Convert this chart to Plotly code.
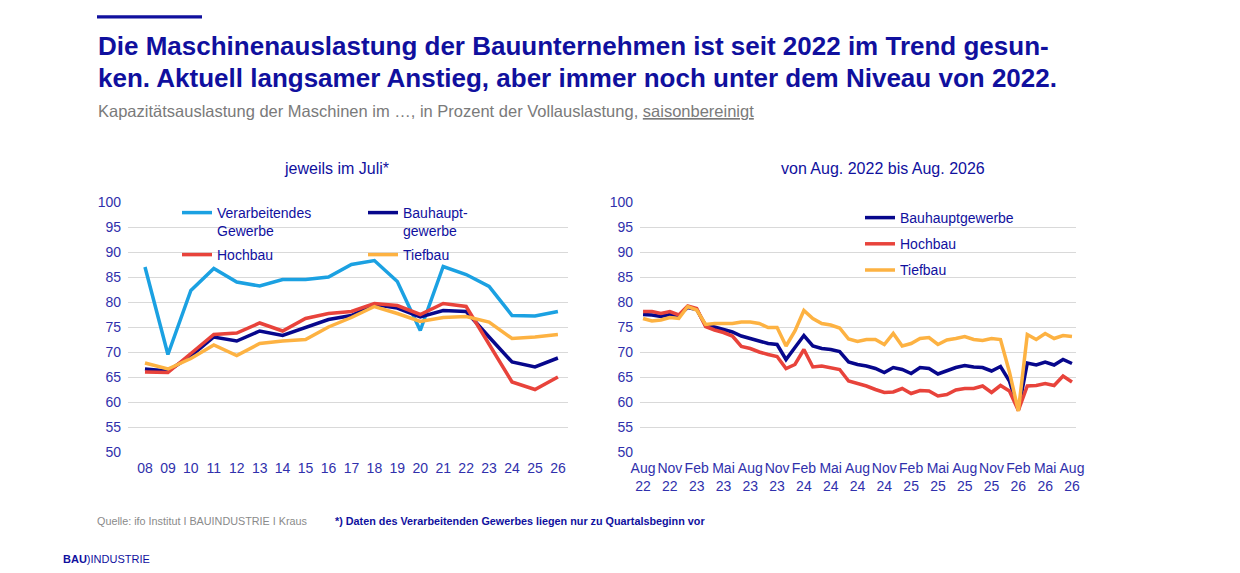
import plotly.graph_objects as go

# page is 1240x573; the html body adds an 8px margin round the figure
OFF = 8
W, H = 1240 - 2 * OFF, 573 - 2 * OFF

# left chart: July values per year
years = ["08", "09", "10", "11", "12", "13", "14", "15", "16", "17",
         "18", "19", "20", "21", "22", "23", "24", "25", "26"]
verarb_juli = [87.0, 69.5, 82.3, 86.7, 84.0, 83.2, 84.5, 84.5, 85.0, 87.5,
               88.3, 84.1, 74.3, 87.1, 85.5, 83.1, 77.3, 77.2, 78.1]
bauhaupt_juli = [66.6, 66.2, 69.2, 73.0, 72.2, 74.2, 73.3, 74.9, 76.5, 77.3,
                 79.5, 78.8, 77.0, 78.3, 78.1, 73.0, 68.0, 67.0, 68.8]
hochbau_juli = [66.0, 65.9, 69.7, 73.5, 73.8, 75.8, 74.2, 76.7, 77.7, 78.1,
                79.7, 79.3, 77.5, 79.7, 79.1, 71.5, 64.0, 62.5, 65.0]
tiefbau_juli = [67.8, 66.6, 68.7, 71.4, 69.3, 71.7, 72.2, 72.5, 75.0, 76.9,
                79.1, 77.7, 76.1, 76.9, 77.1, 76.0, 72.7, 73.0, 73.5]

# right chart: monthly values Aug 2022 - Aug 2026
mon_names = ["Jan", "Feb", "Mrz", "Apr", "Mai", "Jun",
             "Jul", "Aug", "Sep", "Okt", "Nov", "Dez"]
months = [f"{mon_names[(7 + i) % 12]} {22 + (7 + i) // 12}" for i in range(49)]
bauhaupt_mon = [77.5, 77.4, 77.1, 77.5, 77.3, 78.9, 78.5, 75.3, 75.0, 74.5,
                74.0, 73.2, 72.7, 72.2, 71.7, 71.5, 68.5, 70.9, 73.3, 71.2,
                70.7, 70.5, 70.1, 68.0, 67.5, 67.2, 66.7, 65.9, 66.9, 66.5,
                65.7, 66.9, 66.7, 65.6, 66.2, 66.9, 67.3, 67.0, 66.9, 66.2,
                67.1, 64.2, 58.4, 67.8, 67.4, 68.0, 67.4, 68.5, 67.7]
hochbau_mon = [78.1, 78.1, 77.7, 78.1, 77.4, 79.2, 78.7, 75.1, 74.4, 73.9,
               73.2, 71.1, 70.7, 70.0, 69.5, 69.1, 66.7, 67.5, 70.5, 67.0,
               67.2, 66.9, 66.5, 64.2, 63.7, 63.2, 62.5, 61.9, 62.0, 62.7,
               61.7, 62.3, 62.2, 61.2, 61.5, 62.4, 62.7, 62.7, 63.2, 61.9,
               63.3, 62.2, 58.3, 63.2, 63.3, 63.7, 63.3, 65.2, 64.0]
tiefbau_mon = [76.7, 76.2, 76.4, 76.9, 76.7, 79.1, 78.4, 75.5, 75.7, 75.7,
               75.7, 76.0, 76.0, 75.7, 74.9, 74.9, 71.2, 74.2, 78.3, 76.7,
               75.7, 75.4, 74.8, 72.6, 72.1, 72.5, 72.5, 71.5, 73.7, 71.2,
               71.7, 72.7, 72.9, 71.5, 72.4, 72.7, 73.1, 72.5, 72.3, 72.7,
               72.5, 66.0, 58.2, 73.5, 72.5, 73.7, 72.7, 73.3, 73.1]
month_ticks = months[::3]
month_ticktext = [m.replace(" ", "<br>") for m in month_ticks]

C_VERARB = "#1ba1e2"
C_BAU = "#07078c"
C_HOCH = "#e8433b"
C_TIEF = "#fdb242"
NAVY = "#10109e"
TICK = "#3030ac"
FONT = "Liberation Sans, Arial, sans-serif"


def px_x(p):
    return (p - OFF) / W


def px_y(p):
    return 1 - (p - OFF) / H


fig = go.Figure()

left = [("Verarbeitendes<br>Gewerbe", verarb_juli, C_VERARB, "legend"),
        ("Bauhaupt-<br>gewerbe", bauhaupt_juli, C_BAU, "legend"),
        ("Hochbau", hochbau_juli, C_HOCH, "legend2"),
        ("Tiefbau", tiefbau_juli, C_TIEF, "legend2")]
for name, vals, col, leg in left:
    fig.add_trace(go.Scatter(x=years, y=vals, name=name, mode="lines",
                             line=dict(color=col, width=3.5),
                             xaxis="x", yaxis="y", legend=leg,
                             hoverinfo="skip"))

right = [("Bauhauptgewerbe", bauhaupt_mon, C_BAU),
         ("Hochbau", hochbau_mon, C_HOCH),
         ("Tiefbau", tiefbau_mon, C_TIEF)]
for name, vals, col in right:
    fig.add_trace(go.Scatter(x=months, y=vals, name=name, mode="lines",
                             line=dict(color=col, width=3.5),
                             xaxis="x2", yaxis="y2", legend="legend3",
                             legendgroup=name, hoverinfo="skip"))

axis_common = dict(showline=False, zeroline=False, ticks="", automargin=False,
                   tickfont=dict(family=FONT, size=14, color=TICK))
yaxis_common = dict(axis_common, range=[50, 100], dtick=5, showgrid=True,
                    gridcolor="#d9d9d9", gridwidth=1.3, ticklabelstandoff=6,
                    domain=[px_y(452), px_y(202)])

legend_common = dict(font=dict(family=FONT, size=14, color=NAVY),
                     bgcolor="rgba(0,0,0,0)", xanchor="left", yanchor="top",
                     valign="top", itemclick=False, itemdoubleclick=False)

fig.update_layout(
    width=W, height=H,
    margin=dict(l=0, r=0, t=0, b=0, autoexpand=False),
    paper_bgcolor="white", plot_bgcolor="white",
    font=dict(family=FONT, color=NAVY),
    xaxis=dict(axis_common, type="category", domain=[px_x(128), px_x(568)],
               range=[-0.74, 18.44], showgrid=False, ticklabelstandoff=6,
               tickangle=0),
    yaxis=dict(yaxis_common, anchor="x"),
    xaxis2=dict(axis_common, type="category", domain=[px_x(640), px_x(1076)],
                range=[-0.34, 48.45], showgrid=False, tickvals=month_ticks,
                ticktext=month_ticktext, ticklabelstandoff=6, tickangle=0),
    yaxis2=dict(yaxis_common, anchor="x2"),
    legend=dict(legend_common, orientation="h", entrywidth=141,
                x=px_x(177), y=px_y(197)),
    legend2=dict(legend_common, orientation="h", entrywidth=141,
                 x=px_x(177), y=px_y(239)),
    legend3=dict(legend_common, orientation="v", x=px_x(860), y=px_y(202),
                 traceorder="grouped", tracegroupgap=5),
    showlegend=True,
)

# top accent bar
fig.add_shape(type="rect", xref="paper", yref="paper",
              x0=px_x(97), x1=px_x(202), y0=px_y(18.5), y1=px_y(15.2),
              fillcolor=NAVY, line_width=0)

annos = [
    dict(text="<b>Die Maschinenauslastung der Bauunternehmen ist seit 2022 im Trend gesun-</b>",
         x=px_x(96), y=px_y(46), xanchor="left", yanchor="middle", align="left",
         font=dict(size=26, color=NAVY)),
    dict(text="<b>ken. Aktuell langsamer Anstieg, aber immer noch unter dem Niveau von 2022.</b>",
         x=px_x(96), y=px_y(77.5), xanchor="left", yanchor="middle", align="left",
         font=dict(size=26, color=NAVY)),
    dict(text="Kapazitätsauslastung der Maschinen im …, in Prozent der Vollauslastung, <u>saisonbereinigt</u>",
         x=px_x(96), y=px_y(111), xanchor="left", yanchor="middle", align="left",
         font=dict(size=16.5, color="#7a7a7a")),
    dict(text="jeweils im Juli*", x=px_x(336), y=px_y(169), xanchor="center",
         yanchor="middle", font=dict(size=16, color=NAVY)),
    dict(text="von Aug. 2022 bis Aug. 2026", x=px_x(883), y=px_y(169),
         xanchor="center", yanchor="middle", font=dict(size=16, color=NAVY)),
    dict(text="Quelle: ifo Institut I BAUINDUSTRIE I Kraus", x=px_x(95), y=px_y(521),
         xanchor="left", yanchor="middle", font=dict(size=10.8, color="#8a8a8a")),
    dict(text="<b>*) Daten des Verarbeitenden Gewerbes liegen nur zu Quartalsbeginn vor</b>",
         x=px_x(333), y=px_y(521), xanchor="left", yanchor="middle",
         font=dict(size=10.8, color=NAVY)),
    dict(text="<b>BAU</b>)INDUSTRIE", x=px_x(61), y=px_y(559), xanchor="left",
         yanchor="middle", font=dict(size=11, color=NAVY)),
]
for a in annos:
    fig.add_annotation(xref="paper", yref="paper", showarrow=False, **a)

fig.write_html("out.html")
